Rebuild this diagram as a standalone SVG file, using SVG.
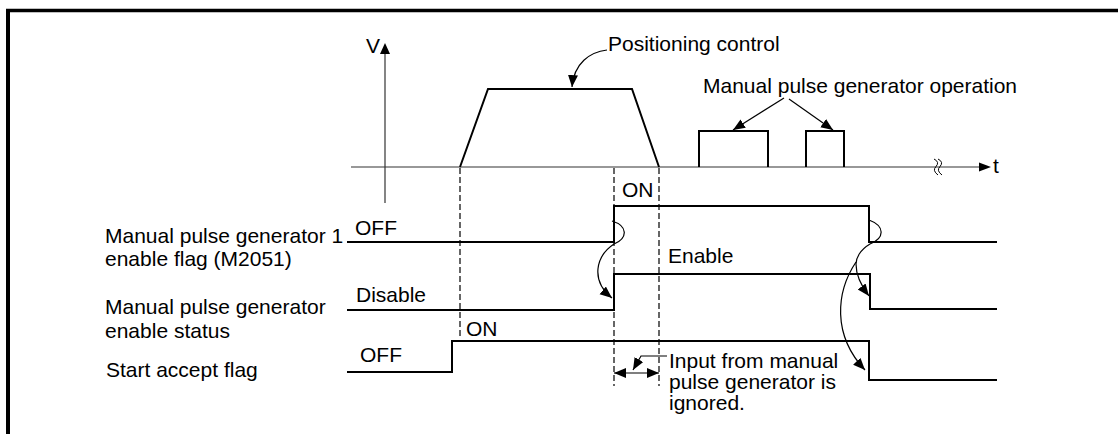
<svg xmlns="http://www.w3.org/2000/svg" width="1118" height="434" viewBox="0 0 1118 434">
<style>
text{font-family:"Liberation Sans",Arial,sans-serif;font-size:21px;fill:#000}
.sig{fill:none;stroke:#000;stroke-width:2}
.ax{fill:none;stroke:#333;stroke-width:1.2}
.dash{fill:none;stroke:#000;stroke-width:1.2;stroke-dasharray:6,3}
.lead{fill:none;stroke:#000;stroke-width:1.2}
</style>
<defs>
<marker id="ah" markerUnits="userSpaceOnUse" markerWidth="14" markerHeight="12" refX="12" refY="5" orient="auto-start-reverse">
<path d="M0,0 L12,5 L0,10 z" fill="#000"/>
</marker>
</defs>
<rect width="1118" height="434" fill="#fff"/>
<g id="frame">
<line x1="6" y1="10.5" x2="1118" y2="10.5" stroke="#000" stroke-width="3.5"/>
<line x1="8" y1="9" x2="8" y2="434" stroke="#000" stroke-width="4"/>
</g>
<g id="axes">
<line class="ax" x1="385" y1="50" x2="385" y2="203"/>
<path d="M385,43 L390,54 L380,54 z" fill="#000"/>
<text x="366" y="53">V</text>
<line class="ax" x1="351" y1="167" x2="982" y2="167"/>
<path d="M991,167 L979,162.5 L979,171.5 z" fill="#000"/>
<text x="993" y="173">t</text>
<path d="M934,159 q6,3 2,7.5 q-4,4 2,8.5 M938,159 q6,3 2,7.5 q-4,4 2,8.5" fill="none" stroke="#000" stroke-width="1"/>
</g>
<g id="velocity">
<path class="sig" d="M460,167 L488,89 L632,89 L659,167"/>
<path class="sig" d="M699,167 L699,131 L768,131 L768,167"/>
<path class="sig" d="M806,167 L806,131 L844,131 L844,167"/>
</g>
<g id="dashes">
<line class="dash" x1="460" y1="168" x2="460" y2="336"/>
<line class="dash" x1="614" y1="168" x2="614" y2="386"/>
<line class="dash" x1="659" y1="168" x2="659" y2="386"/>
</g>
<g id="signal-m2051">
<path class="sig" d="M347,242 L614,242 L614,206 L869,206 L869,242 L997,242"/>
<text x="105" y="243">Manual pulse generator 1</text>
<text x="105" y="266">enable flag (M2051)</text>
<text x="355" y="235">OFF</text>
<text x="622" y="197">ON</text>
</g>
<g id="signal-enable-status">
<path class="sig" d="M347,310 L614,310 L614,274 L870,274 L870,309 L997,309"/>
<text x="105" y="314">Manual pulse generator</text>
<text x="105" y="338">enable status</text>
<text x="356" y="302">Disable</text>
<text x="668" y="263">Enable</text>
</g>
<g id="signal-start-accept">
<path class="sig" d="M347,372 L452,372 L452,341 L869,341 L869,380 L997,380"/>
<text x="106" y="377">Start accept flag</text>
<text x="360" y="362">OFF</text>
<text x="466" y="336">ON</text>
</g>
<g id="labels">
<text x="608" y="51">Positioning control</text>
<text x="703" y="93">Manual pulse generator operation</text>
<text x="669" y="368">Input from manual</text>
<text x="669" y="389">pulse generator is</text>
<text x="669" y="410">ignored.</text>
</g>
<g id="connectors">
<path class="lead" d="M607,50 C590,52 574,63 572,87" marker-end="url(#ah)"/>
<line class="lead" x1="784" y1="98" x2="733" y2="130" marker-end="url(#ah)"/>
<line class="lead" x1="789" y1="99" x2="833" y2="130" marker-end="url(#ah)"/>
<path class="lead" d="M612,221 C628,226 628,238 614,244 C596,256 590,280 612,298" marker-end="url(#ah)"/>
<path class="lead" d="M869,220 C885,226 885,238 870,244 C860,250 856,258 856,264 C856,275 862,287 869,296" marker-end="url(#ah)"/>
<path class="lead" d="M856,262 C836,292 832,335 865,370" marker-end="url(#ah)"/>
<line class="lead" x1="614" y1="373" x2="659" y2="373" marker-start="url(#ah)" marker-end="url(#ah)"/>
<path class="lead" d="M667,356 L641,356 L633,370" marker-end="url(#ah)"/>
</g>
</svg>
